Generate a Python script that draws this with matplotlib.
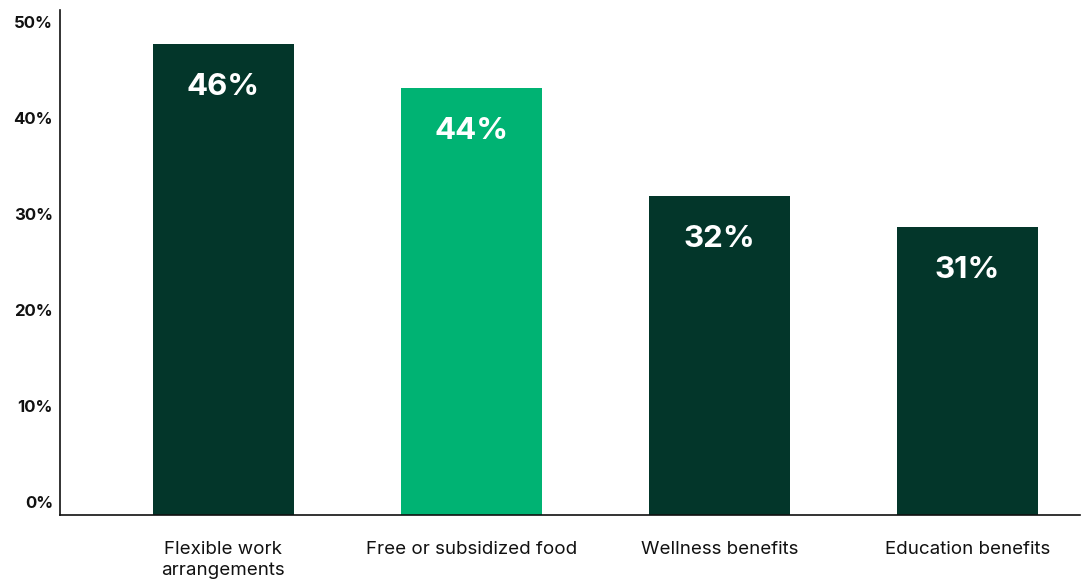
"""Bar chart of most valued workplace benefits."""

import matplotlib.pyplot as plt
import matplotlib.transforms as mtransforms
import numpy as np

categories = ["Flexible work\narrangements", "Free or subsidized food",
              "Wellness benefits", "Education benefits"]
bar_heights = [49.1, 44.5, 33.2, 30.0]
value_labels = ["46%", "44%", "32%", "31%"]
y_ticks = [0, 10, 20, 30, 40, 50]
y_tick_labels = ["0%", "10%", "20%", "30%", "40%", "50%"]

DARK = "#03362A"
BRIGHT = "#00B373"
bar_colors = [DARK, BRIGHT, DARK, DARK]

plt.rcParams["font.family"] = ["Inter", "DejaVu Sans"]

fig = plt.figure(figsize=(10.86, 5.87), dpi=100)
ax = fig.add_axes([60 / 1086, 72 / 587, 1020 / 1086, 505 / 587])

x = np.arange(len(categories))
bars = ax.bar(x, bar_heights, width=0.569, color=bar_colors, zorder=2)

for rect, lbl in zip(bars, value_labels):
    ax.annotate(
        lbl,
        (rect.get_x() + rect.get_width() / 2, rect.get_height()),
        xytext=(0, -31),
        textcoords="offset points",
        ha="center",
        va="center",
        color="white",
        fontsize=22.5,
        fontweight="bold",
    )

ax.set_xlim(-0.659, 3.454)
ax.set_ylim(0, 52.6)

ax.set_xticks(x)
ax.set_xticklabels(categories, fontsize=13.5, color="#111111", linespacing=1.3)
ax.tick_params(axis="x", length=0, pad=19)

ax.set_yticks(y_ticks)
ax.set_yticklabels(y_tick_labels, fontsize=12, fontweight="bold", color="#111111")
ax.tick_params(axis="y", length=0, pad=5)
shift = mtransforms.ScaledTranslation(0, 13 / 100, fig.dpi_scale_trans)
for lbl in ax.get_yticklabels():
    lbl.set_transform(lbl.get_transform() + shift)

for side in ["top", "right"]:
    ax.spines[side].set_visible(False)
for side in ["left", "bottom"]:
    ax.spines[side].set_linewidth(1.2)
    ax.spines[side].set_color("#111111")

fig.savefig("out.png", dpi=100)
